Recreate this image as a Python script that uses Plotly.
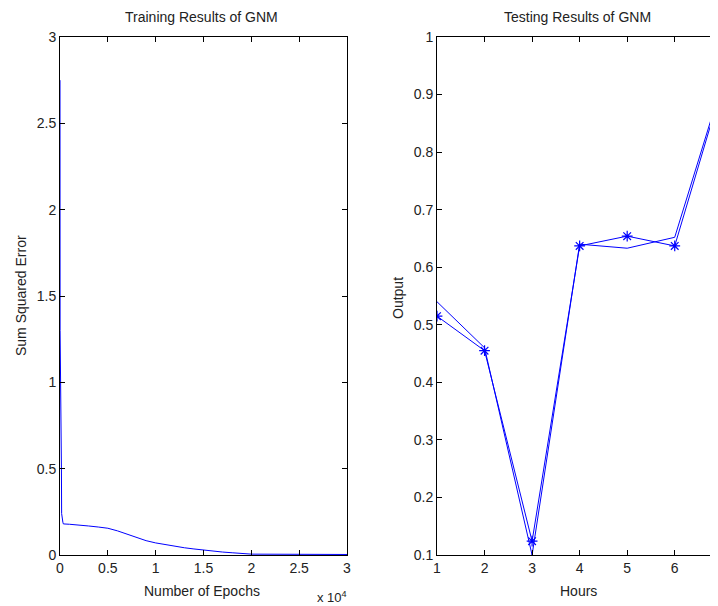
import plotly.graph_objects as go

# ---- data ----
epochs = [0, 10, 150, 170, 300, 350, 1000, 2000, 3000, 4000, 5000, 6000, 7000, 8000,
          9000, 10000, 11000, 12000, 13000, 14000, 15000, 16000, 17000, 18000, 19000,
          20000, 25000, 30000]
sse = [2.75, 1.3, 0.5, 0.24, 0.19, 0.18, 0.178, 0.175, 0.168, 0.162, 0.155, 0.14, 0.12,
       0.1, 0.083, 0.07, 0.06, 0.05, 0.042, 0.035, 0.028, 0.022, 0.017, 0.013, 0.008,
       0.005, 0.004, 0.003]

hours = [1, 2, 3, 4, 5, 6, 7]
output_pred = [0.515, 0.455, 0.124, 0.637, 0.654, 0.637, 0.915]
output_target = [0.54, 0.46, 0.10, 0.64, 0.633, 0.652, 0.92]

x1_tickvals = [0, 5000, 10000, 15000, 20000, 25000, 30000]
x1_ticktext = ["0", "0.5", "1", "1.5", "2", "2.5", "3"]
y1_tickvals = [0, 0.5, 1, 1.5, 2, 2.5, 3]
y1_ticktext = ["0", "0.5", "1", "1.5", "2", "2.5", "3"]
x2_tickvals = [1, 2, 3, 4, 5, 6, 7]
y2_tickvals = [0.1, 0.2, 0.3, 0.4, 0.5, 0.6, 0.7, 0.8, 0.9, 1.0]
y2_ticktext = ["0.1", "0.2", "0.3", "0.4", "0.5", "0.6", "0.7", "0.8", "0.9", "1"]

W, H = 718, 606
OFF = 8  # page body margin offset
def px(x): return (x - OFF) / W
def py(y): return 1 - (y - OFF) / H

FONT = "Liberation Sans, Arial, sans-serif"
FS = 14
fig = go.Figure()

fig.add_trace(go.Scatter(x=epochs, y=sse, mode="lines",
                         line=dict(color="#0000ff", width=1),
                         xaxis="x", yaxis="y", showlegend=False))
fig.add_trace(go.Scatter(x=hours, y=output_target, mode="lines",
                         line=dict(color="#0000ff", width=1),
                         xaxis="x2", yaxis="y2", showlegend=False))
fig.add_trace(go.Scatter(x=hours, y=output_pred, mode="lines+markers",
                         line=dict(color="#0000ff", width=1),
                         marker=dict(symbol="asterisk-open", size=9,
                                     line=dict(color="#0000ff", width=1.2)),
                         xaxis="x2", yaxis="y2", showlegend=False))

axis_common = dict(showgrid=False, zeroline=False, showline=True, linecolor="black",
                   linewidth=1, ticks="inside", ticklen=5, tickcolor="black",
                   automargin=False,
                   tickfont=dict(family=FONT, size=FS, color="#222"))

fig.update_layout(
    template="none",
    width=W, height=H, margin=dict(l=0, r=0, t=0, b=0, pad=0),
    paper_bgcolor="white", plot_bgcolor="white",
    font=dict(family=FONT, size=FS, color="#222"),
    xaxis=dict(domain=[px(60), px(347)], range=[0, 30000], tickvals=x1_tickvals,
               ticktext=x1_ticktext, mirror="ticks", anchor="y", **axis_common),
    yaxis=dict(domain=[py(555), py(37)], range=[0, 3], tickvals=y1_tickvals,
               ticktext=y1_ticktext, mirror="ticks", anchor="x", **axis_common),
    xaxis2=dict(domain=[px(437), px(718)], range=[1, 6.91], tickvals=x2_tickvals,
                mirror="ticks", anchor="y2", **axis_common),
    yaxis2=dict(domain=[py(555), py(37)], range=[0.1, 1.0], tickvals=y2_tickvals,
                ticktext=y2_ticktext, mirror=False, anchor="x2", **axis_common),
)

ann = []
def add(text, x, y, angle=0, xanchor="center", size=FS):
    ann.append(dict(text=text, x=px(x), y=py(y), xref="paper", yref="paper",
                    showarrow=False, xanchor=xanchor, yanchor="middle",
                    textangle=angle, font=dict(family=FONT, size=size, color="#222")))

add("Training Results of GNM", 202, 17)
add("Testing Results of GNM", 577, 17)
add("Number of Epochs", 202, 591)
add("Hours", 578, 591)
add("Sum Squared Error", 21, 296, angle=-90)
add("Output", 398, 298, angle=-90)
add("x 10<sup>4</sup>", 349, 597, xanchor="right", size=13)
fig.update_layout(annotations=ann)

fig.write_html("out.html")
